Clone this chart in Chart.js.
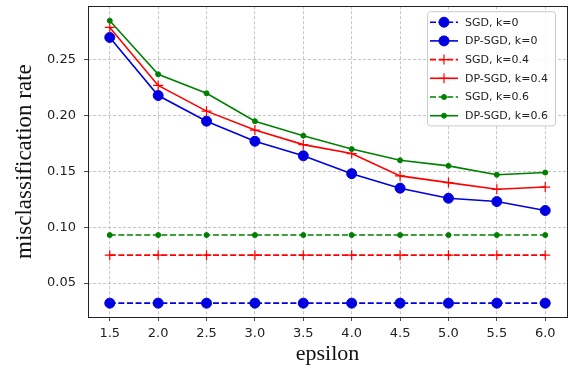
<!doctype html>
<html>
<head>
<meta charset="utf-8" />
<script src="https://cdn.jsdelivr.net/npm/chart.js@4"></script>
<style>
  html, body { margin: 0; padding: 0; background: #fff; }
  #wrap { width: 577px; height: 374px; position: relative; }
</style>
</head>
<body>
<div id="wrap"><canvas id="chart"></canvas></div>
<script>
const epsilon = [1.5, 2.0, 2.5, 3.0, 3.5, 4.0, 4.5, 5.0, 5.5, 6.0];
const xTicks = [1.5, 2.0, 2.5, 3.0, 3.5, 4.0, 4.5, 5.0, 5.5, 6.0];
const yTicks = [0.05, 0.10, 0.15, 0.20, 0.25];

const sgdK0 = [0.032, 0.032, 0.032, 0.032, 0.032, 0.032, 0.032, 0.032, 0.032, 0.032];
const dpK0 = [0.270, 0.218, 0.195, 0.177, 0.164, 0.148, 0.135, 0.126, 0.123, 0.115];
const sgdK04 = [0.075, 0.075, 0.075, 0.075, 0.075, 0.075, 0.075, 0.075, 0.075, 0.075];
const dpK04 = [0.279, 0.227, 0.204, 0.187, 0.174, 0.166, 0.146, 0.140, 0.134, 0.136];
const sgdK06 = [0.093, 0.093, 0.093, 0.093, 0.093, 0.093, 0.093, 0.093, 0.093, 0.093];
const dpK06 = [0.285, 0.237, 0.220, 0.195, 0.182, 0.170, 0.160, 0.155, 0.147, 0.149];

const BLUE = '#0000e0';
const RED = '#ff0000';
const GREEN = '#008000';

function series(label, values, color, dashed, style, radius) {
  return {
    label,
    data: values.map((v, i) => ({ x: epsilon[i], y: v })),
    borderColor: color,
    backgroundColor: color,
    borderWidth: 1.6,
    borderDash: dashed ? [6, 2.6] : [],
    pointStyle: style,
    pointRadius: radius,
    pointHoverRadius: radius,
    pointBorderWidth: style === 'cross' ? 1.2 : 1,
    tension: 0,
    fill: false,
  };
}

const datasets = [
  series('SGD, k=0', sgdK0, BLUE, true, 'circle', 5),
  series('DP-SGD, k=0', dpK0, BLUE, false, 'circle', 5),
  series('SGD, k=0.4', sgdK04, RED, true, 'cross', 5),
  series('DP-SGD, k=0.4', dpK04, RED, false, 'cross', 5),
  series('SGD, k=0.6', sgdK06, GREEN, true, 'circle', 2.5),
  series('DP-SGD, k=0.6', dpK06, GREEN, false, 'circle', 2.5),
];
datasets.forEach((d, i) => { d.order = datasets.length - i; });

// black frame around the plot area, like matplotlib's spines
const frame = {
  id: 'frame',
  afterDatasetsDraw(chart) {
    const { ctx, chartArea: a } = chart;
    ctx.save();
    ctx.strokeStyle = '#222';
    ctx.lineWidth = 1;
    ctx.strokeRect(Math.round(a.left) + 0.5, Math.round(a.top) + 0.5,
      Math.round(a.right - a.left), Math.round(a.bottom - a.top));
    ctx.restore();
  },
};

// legend box in the upper right corner of the plot
const innerLegend = {
  id: 'innerLegend',
  afterDraw(chart) {
    const { ctx, chartArea: a } = chart;
    const boxW = 128, rowH = 18.7, boxH = 6 * rowH + 2;
    const x0 = a.right - boxW - 12, y0 = a.top + 5;
    ctx.save();
    ctx.fillStyle = 'rgba(255,255,255,0.85)';
    ctx.strokeStyle = '#cccccc';
    ctx.lineWidth = 1;
    ctx.beginPath();
    ctx.roundRect(x0 + 0.5, y0 + 0.5, boxW, boxH, 3);
    ctx.fill();
    ctx.stroke();
    ctx.font = '11px "DejaVu Sans"';
    ctx.textBaseline = 'middle';
    ctx.fillStyle = '#222';
    chart.data.datasets.forEach((d, i) => {
      const cy = y0 + 11 + i * rowH;
      ctx.save();
      ctx.strokeStyle = d.borderColor;
      ctx.lineWidth = d.borderWidth;
      ctx.setLineDash(d.borderDash);
      ctx.beginPath();
      ctx.moveTo(x0 + 3, cy);
      ctx.lineTo(x0 + 31, cy);
      ctx.stroke();
      ctx.setLineDash([]);
      ctx.fillStyle = d.backgroundColor;
      ctx.lineWidth = d.pointBorderWidth;
      Chart.helpers.drawPoint(ctx, { pointStyle: d.pointStyle, radius: d.pointRadius, borderWidth: d.pointBorderWidth }, x0 + 17, cy);
      ctx.restore();
      ctx.fillText(d.label, x0 + 38, cy + 0.5);
    });
    ctx.restore();
  },
};

new Chart(document.getElementById('chart'), {
  type: 'line',
  data: { datasets },
  plugins: [frame, innerLegend],
  options: {
    responsive: true,
    maintainAspectRatio: false,
    animation: false,
    layout: { padding: { top: 4, right: 10, left: 0, bottom: 0 } },
    plugins: { legend: { display: false }, tooltip: { enabled: false } },
    scales: {
      x: {
        type: 'linear',
        min: 1.275,
        max: 6.225,
        afterBuildTicks(scale) { scale.ticks = xTicks.map((v) => ({ value: v })); },
        afterFit(scale) { scale.height = 57; scale.paddingLeft = 0; scale.paddingRight = 0; },
        ticks: {
          callback: (v) => Number(v).toFixed(1),
          font: { family: 'DejaVu Sans', size: 13 },
          color: '#222',
          padding: 5,
          maxRotation: 0,
        },
        grid: {
          color: '#b8b8b8',
          lineWidth: 0.8,
          tickColor: '#222',
          tickLength: 4,
          tickBorderDash: [],
        },
        border: { display: false, dash: [3, 2] },
        title: {
          display: true,
          text: 'epsilon',
          font: { family: 'Liberation Serif', size: 22 },
          color: '#111',
          padding: { top: 0, bottom: 7 },
        },
      },
      y: {
        type: 'linear',
        min: 0.0196,
        max: 0.298,
        afterBuildTicks(scale) { scale.ticks = yTicks.map((v) => ({ value: v })); },
        afterFit(scale) { scale.width = 88; scale.paddingTop = 0; scale.paddingBottom = 0; },
        ticks: {
          callback: (v) => Number(v).toFixed(2),
          font: { family: 'DejaVu Sans', size: 13 },
          color: '#222',
          padding: 8,
        },
        grid: {
          color: '#b8b8b8',
          lineWidth: 0.8,
          tickColor: '#222',
          tickLength: 4,
          tickBorderDash: [],
        },
        border: { display: false, dash: [3, 2] },
        title: {
          display: true,
          text: 'misclassification rate',
          font: { family: 'Liberation Serif', size: 23 },
          color: '#111',
          padding: { top: 11, bottom: 0 },
        },
      },
    },
  },
});
</script>
</body>
</html>
